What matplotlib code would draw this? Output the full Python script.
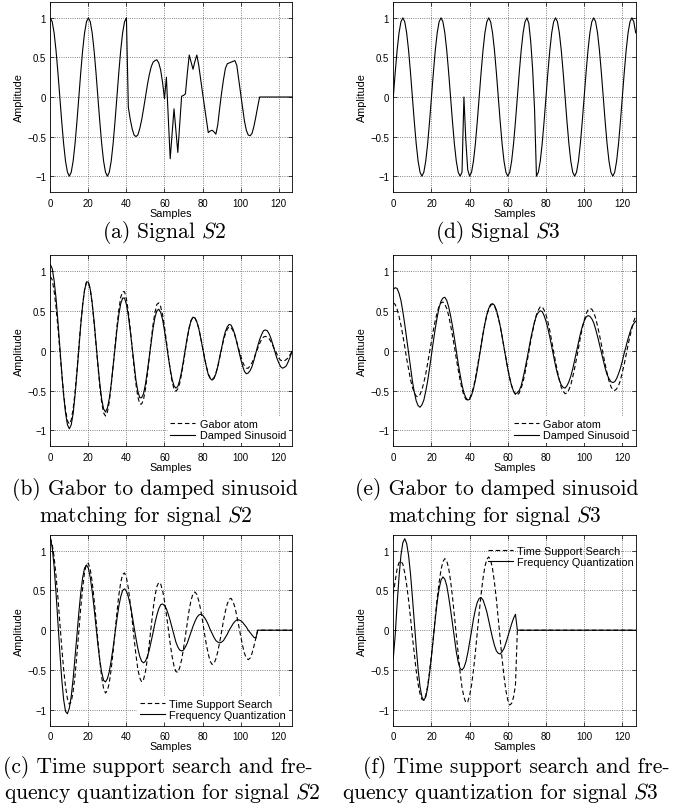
#!/usr/bin/env python3
"""
Six panel figure: signals S2 / S3, Gabor vs damped sinusoid matching,
and time support search vs frequency quantization.
"""

import numpy as np
import matplotlib
matplotlib.use('Agg')
import matplotlib.pyplot as plt

plt.rcParams['font.family'] = ['Liberation Sans', 'DejaVu Sans']
plt.rcParams['mathtext.fontset'] = 'cm'

# Amplitude per sample (samples 0..127)

# (a) signal S2
s2_signal = [1.0, 0.95, 0.81, 0.59, 0.31, 0.0, -0.31, -0.59, -0.81, -0.95,
             -1.0, -0.95, -0.81, -0.59, -0.31, 0.0, 0.31, 0.59, 0.81, 0.95,
             1.0, 0.95, 0.81, 0.59, 0.31, 0.0, -0.31, -0.59, -0.81, -0.95,
             -1.0, -0.95, -0.81, -0.59, -0.31, 0.0, 0.31, 0.59, 0.81, 0.95,
             1.0,
             -0.13, -0.28, -0.40, -0.48, -0.50, -0.48, -0.40, -0.29, -0.15, 0.0,
             0.15, 0.28, 0.38, 0.44, 0.46, 0.47, 0.43, 0.34, 0.18, -0.02,
             0.25, -0.27, -0.78, -0.46, -0.15, -0.42, -0.70, -0.34, 0.01, 0.02,
             0.04, 0.30, 0.53, 0.44, 0.35, 0.45, 0.53, 0.40, 0.22, 0.05,
             -0.12, -0.30, -0.45, -0.43, -0.42, -0.44, -0.47, -0.35, -0.14, 0.05,
             0.22, 0.36, 0.42, 0.43, 0.44, 0.45, 0.46, 0.40, 0.22, 0.05,
             -0.13, -0.30, -0.42, -0.48, -0.49, -0.46, -0.37, -0.25, -0.12, 0.0] + [0.0] * 17

# (d) signal S3
s3_signal = [0.0, 0.31, 0.59, 0.81, 0.95, 1.0, 0.95, 0.81, 0.59, 0.31,
             0.0, -0.31, -0.59, -0.81, -0.95, -1.0, -0.95, -0.81, -0.59, -0.31,
             0.0, 0.31, 0.59, 0.81, 0.95, 1.0, 0.95, 0.81, 0.59, 0.31,
             0.0, -0.31, -0.59, -0.81, -0.95, -1.0, -0.95, 0.0, -0.55, -0.92,
             -1.0,
             -0.95, -0.81, -0.59, -0.31, 0.0, 0.31, 0.59, 0.81, 0.95, 1.0,
             0.95, 0.81, 0.59, 0.31, 0.0, -0.31, -0.59, -0.81, -0.95, -1.0,
             -0.95, -0.81, -0.59, -0.31, 0.0, 0.31, 0.59, 0.81, 0.95, 1.0,
             0.93, 0.70, 0.35, -0.15, -1.0,
             -0.95, -0.81, -0.59, -0.31, 0.0, 0.31, 0.59, 0.81, 0.95, 1.0,
             0.95, 0.81, 0.59, 0.31, 0.0, -0.31, -0.59, -0.81, -0.95, -1.0,
             -0.95, -0.81, -0.59, -0.31, 0.0, 0.31, 0.59, 0.81, 0.95, 1.0,
             0.95, 0.81, 0.59, 0.31, 0.0, -0.31, -0.59, -0.81, -0.95, -1.0,
             -0.95, -0.81, -0.59, -0.31, 0.0, 0.31, 0.59, 0.81, 0.95, 1.0,
             0.95, 0.81]

# (b) S2: Gabor atom (dashed) and damped sinusoid (solid)
s2_gabor = [0.93, 0.89, 0.75, 0.55, 0.29, 0.00, -0.28, -0.54, -0.74, -0.88, -0.92,
            -0.87, -0.73, -0.52, -0.25, 0.05, 0.34, 0.58, 0.76, 0.86,
            0.86, 0.77, 0.59, 0.35, 0.08, -0.20, -0.45, -0.65, -0.78,
            -0.82, -0.77, -0.64, -0.44, -0.20, 0.05, 0.30, 0.51, 0.67, 0.74,
            0.74, 0.65, 0.49, 0.28, 0.04, -0.21, -0.42, -0.58, -0.67,
            -0.67, -0.61, -0.48, -0.30, -0.08, 0.13, 0.33, 0.48, 0.58,
            0.60, 0.55, 0.45, 0.30, 0.12, -0.07, -0.24, -0.39, -0.48, -0.51,
            -0.48, -0.41, -0.29, -0.15, 0.01, 0.16, 0.29, 0.38, 0.42,
            0.41, 0.36, 0.28, 0.17, 0.04, -0.08, -0.20, -0.29, -0.34,
            -0.36, -0.34, -0.28, -0.20, -0.09, 0.02, 0.13, 0.21, 0.27, 0.30,
            0.29, 0.25, 0.19, 0.11, 0.02, -0.06, -0.14, -0.19, -0.22,
            -0.22, -0.19, -0.15, -0.10, -0.03, 0.03, 0.09, 0.14, 0.17, 0.18,
            0.17, 0.15, 0.11, 0.06, 0.01, -0.04, -0.09, -0.12, -0.13,
            -0.13, -0.11, -0.09, -0.05, -0.01]
s2_damped = [1.08, 1.03, 0.88, 0.66, 0.37, 0.05, -0.27, -0.56, -0.78, -0.93, -0.98,
             -0.93, -0.79, -0.56, -0.28, 0.02, 0.32, 0.57, 0.76, 0.86,
             0.86, 0.77, 0.60, 0.37, 0.10, -0.17, -0.41, -0.61, -0.73,
             -0.77, -0.72, -0.60, -0.42, -0.20, 0.03, 0.26, 0.45, 0.59, 0.66,
             0.66, 0.58, 0.44, 0.25, 0.04, -0.18, -0.37, -0.51, -0.59,
             -0.59, -0.54, -0.42, -0.26, -0.08, 0.11, 0.28, 0.42, 0.50,
             0.52, 0.48, 0.39, 0.25, 0.09, -0.08, -0.23, -0.36, -0.44, -0.47,
             -0.45, -0.37, -0.26, -0.12, 0.03, 0.17, 0.29, 0.38, 0.42,
             0.41, 0.36, 0.28, 0.16, 0.04, -0.09, -0.20, -0.30, -0.35, -0.37,
             -0.35, -0.29, -0.20, -0.08, 0.03, 0.15, 0.24, 0.30, 0.33,
             0.32, 0.27, 0.20, 0.10, 0.00, -0.10, -0.19, -0.26, -0.29,
             -0.28, -0.25, -0.20, -0.12, -0.03, 0.06, 0.14, 0.20, 0.25, 0.26,
             0.25, 0.21, 0.15, 0.07, -0.01, -0.09, -0.15, -0.20, -0.22,
             -0.21, -0.19, -0.14, -0.08, -0.01]

# (e) S3: Gabor atom (dashed) and damped sinusoid (solid)
s3_gabor = [0.60, 0.58, 0.52, 0.43, 0.32, 0.19, 0.05, -0.10, -0.23, -0.36, -0.46, -0.53, -0.57,
            -0.58, -0.55, -0.49, -0.40, -0.29, -0.16, -0.02, 0.12, 0.26, 0.38, 0.48, 0.56, 0.60,
            0.61, 0.58, 0.53, 0.44, 0.32, 0.19, 0.05, -0.10, -0.24, -0.37, -0.48, -0.56, -0.61,
            -0.62, -0.60, -0.54, -0.46, -0.35, -0.21, -0.07, 0.07, 0.21, 0.34, 0.45, 0.52, 0.57,
            0.58, 0.56, 0.50, 0.41, 0.31, 0.18, 0.04, -0.09, -0.23, -0.34, -0.44, -0.51, -0.55,
            -0.56, -0.53, -0.47, -0.39, -0.28, -0.15, -0.02, 0.12, 0.24, 0.36, 0.45, 0.51, 0.55,
            0.55, 0.51, 0.45, 0.36, 0.25, 0.12, -0.01, -0.14, -0.26, -0.37, -0.46, -0.51, -0.54,
            -0.53, -0.49, -0.43, -0.33, -0.22, -0.10, 0.03, 0.16, 0.28, 0.38, 0.46, 0.51, 0.53,
            0.52, 0.48, 0.41, 0.31, 0.20, 0.08, -0.05, -0.17, -0.28, -0.38, -0.45, -0.49,
            -0.50, -0.48, -0.44, -0.37, -0.27, -0.17, -0.05, 0.07, 0.18, 0.28, 0.37, 0.43]
s3_damped = [0.77, 0.79, 0.78, 0.72, 0.63, 0.49, 0.33, 0.15, -0.03, -0.22, -0.38, -0.52, -0.63, -0.69,
             -0.71, -0.68, -0.62, -0.51, -0.38, -0.22, -0.05, 0.12, 0.28, 0.42, 0.54, 0.62, 0.66,
             0.67, 0.63, 0.55, 0.44, 0.31, 0.16, 0.00, -0.16, -0.30, -0.43, -0.53, -0.59, -0.62,
             -0.61, -0.56, -0.48, -0.37, -0.24, -0.09, 0.06, 0.21, 0.34, 0.45, 0.53, 0.58,
             0.59, 0.57, 0.51, 0.42, 0.31, 0.18, 0.04, -0.10, -0.23, -0.35, -0.44, -0.51, -0.54,
             -0.53, -0.50, -0.44, -0.34, -0.23, -0.11, 0.02, 0.15, 0.26, 0.36, 0.44, 0.48, 0.50,
             0.49, 0.44, 0.37, 0.28, 0.17, 0.05, -0.07, -0.19, -0.29, -0.37, -0.43, -0.46,
             -0.47, -0.44, -0.39, -0.32, -0.23, -0.12, -0.01, 0.10, 0.21, 0.30, 0.37, 0.42, 0.44,
             0.43, 0.40, 0.35, 0.27, 0.18, 0.08, -0.02, -0.12, -0.22, -0.30, -0.35, -0.39,
             -0.40, -0.39, -0.35, -0.29, -0.22, -0.13, -0.03, 0.06, 0.15, 0.23, 0.30, 0.34, 0.37]

# (c) S2: time support search (dashed) and frequency quantization (solid)
s2_time_support = [1.16, 1.08, 0.92, 0.69, 0.41, 0.10, -0.21, -0.49, -0.71, -0.86, -0.93,
                   -0.90, -0.77, -0.57, -0.30, -0.01, 0.28, 0.53, 0.73, 0.83,
                   0.84, 0.76, 0.61, 0.39, 0.14, -0.13, -0.38, -0.59, -0.73, -0.79,
                   -0.76, -0.66, -0.49, -0.27, -0.02, 0.22, 0.44, 0.60, 0.70,
                   0.72, 0.66, 0.53, 0.34, 0.13, -0.10, -0.31, -0.49, -0.60, -0.65,
                   -0.62, -0.52, -0.36, -0.17, 0.05, 0.26, 0.43, 0.55, 0.60,
                   0.58, 0.50, 0.37, 0.20, 0.02, -0.17, -0.33, -0.45, -0.52,
                   -0.53, -0.47, -0.37, -0.23, -0.07, 0.10, 0.26, 0.38, 0.46,
                   0.48, 0.45, 0.37, 0.26, 0.12, -0.04, -0.18, -0.30, -0.39, -0.43,
                   -0.42, -0.36, -0.27, -0.15, -0.02, 0.12, 0.24, 0.33, 0.39,
                   0.40, 0.36, 0.29, 0.18, 0.06, -0.07, -0.19, -0.29, -0.35, -0.37,
                   -0.35, -0.29, -0.20, -0.10] + [0.0] * 19
s2_freq_quant = [1.16, 1.04, 0.80, 0.47, 0.10, -0.27, -0.61, -0.87, -1.02,
                 -1.05, -0.98, -0.83, -0.61, -0.34, -0.06, 0.22, 0.47, 0.66, 0.78,
                 0.82, 0.78, 0.66, 0.49, 0.28, 0.05, -0.18, -0.38, -0.53, -0.63,
                 -0.65, -0.61, -0.52, -0.38, -0.22, -0.04, 0.14, 0.30, 0.42, 0.50,
                 0.52, 0.49, 0.42, 0.32, 0.19, 0.04, -0.10, -0.23, -0.33, -0.39,
                 -0.41, -0.39, -0.33, -0.25, -0.14, -0.03, 0.09, 0.19, 0.27, 0.32,
                 0.33, 0.31, 0.27, 0.20, 0.12, 0.03, -0.06, -0.15, -0.21, -0.25,
                 -0.26, -0.25, -0.21, -0.16, -0.09, -0.02, 0.05, 0.11, 0.16, 0.19,
                 0.20, 0.19, 0.16, 0.12, 0.07, 0.01, -0.04, -0.09, -0.13, -0.15,
                 -0.16, -0.15, -0.13, -0.09, -0.05, 0.00, 0.04, 0.08, 0.11, 0.13,
                 0.13, 0.12, 0.10, 0.07, 0.04, 0.00, -0.03, -0.06, -0.09, -0.10] + [0.0] * 19

# (f) S3: time support search (dashed) and frequency quantization (solid)
s3_time_support = [0.45, 0.62, 0.77, 0.85,
                   0.87, 0.83, 0.72, 0.57, 0.38, 0.16, -0.08, -0.30, -0.51, -0.68, -0.80, -0.87,
                   -0.88, -0.82, -0.70, -0.52, -0.31, -0.08, 0.17, 0.40, 0.60, 0.76, 0.86, 0.90,
                   0.87, 0.78, 0.62, 0.42, 0.18, -0.07, -0.31, -0.53, -0.72, -0.84, -0.91,
                   -0.90, -0.82, -0.69, -0.50, -0.28, -0.03, 0.22, 0.45, 0.65, 0.80, 0.89,
                   0.92, 0.88, 0.77, 0.60, 0.39, 0.14, -0.11, -0.36, -0.58, -0.76, -0.88, -0.94,
                   -0.92, -0.84, -0.69] + [0.0] * 63
s3_freq_quant = [-0.35, -0.06, 0.33, 0.67, 0.94, 1.10, 1.15,
                 1.09, 0.94, 0.71, 0.42, 0.10, -0.21, -0.49, -0.71, -0.84, -0.88,
                 -0.84, -0.72, -0.54, -0.33, -0.09, 0.14, 0.36, 0.52, 0.63, 0.67,
                 0.64, 0.56, 0.42, 0.26, 0.08, -0.11, -0.27, -0.40, -0.48, -0.50,
                 -0.47, -0.40, -0.29, -0.15, -0.01, 0.14, 0.26, 0.35, 0.40, 0.41,
                 0.38, 0.31, 0.23, 0.12, 0.01, -0.10, -0.19, -0.26, -0.29, -0.30,
                 -0.27, -0.23, -0.16, -0.08, 0.00, 0.08, 0.15, 0.20] + [0.0] * 63

x_ticks = [0, 20, 40, 60, 80, 100, 120]
y_ticks = [-1, -0.5, 0, 0.5, 1]
y_tick_labels = ['\u22121', '\u22120.5', '0', '0.5', '1']

fig = plt.figure(figsize=(6.79, 8.12), dpi=100)

W, H = 679.0, 812.0


def add_axes(px_left, px_top, px_right, px_bottom):
    return fig.add_axes([px_left / W, 1 - px_bottom / H,
                         (px_right - px_left) / W, (px_bottom - px_top) / H])


def style(ax):
    ax.set_xlim(0, 127)
    ax.set_ylim(-1.2, 1.2)
    ax.set_xticks(x_ticks)
    ax.set_yticks(y_ticks)
    ax.set_yticklabels(y_tick_labels)
    ax.tick_params(direction='in', length=3, width=0.5, labelsize=6.9,
                   top=True, right=True, pad=3)
    ax.tick_params(axis='x', pad=4)
    ax.grid(True, linestyle=':', color='0.35', linewidth=0.6)
    for sp in ax.spines.values():
        sp.set_linewidth(0.6)
    ax.set_xlabel('Samples', fontsize=7.8, labelpad=0)
    ax.set_ylabel('Amplitude', fontsize=7.8, labelpad=2)


def legend(ax, loc, anchor=None, frame=True):
    kw = {}
    if anchor is not None:
        kw['bbox_to_anchor'] = anchor
    leg = ax.legend(loc=loc, fontsize=7.8, handlelength=2.3, handletextpad=0.4,
                    labelspacing=0.1, borderpad=0.25, borderaxespad=0.3,
                    frameon=frame, fancybox=False, framealpha=1.0, **kw)
    if frame:
        leg.get_frame().set_edgecolor('white')
        leg.get_frame().set_linewidth(0)


lw = 0.8
dash = (4, 2.5)
cols = [(50.3, 292.0), (393.3, 635.7)]
rows = [(3.0, 193.0), (256.0, 447.3), (535.7, 726.7)]

# (a)
ax = add_axes(cols[0][0], rows[0][0], cols[0][1], rows[0][1])
ax.plot(np.arange(len(s2_signal)), s2_signal, color='k', lw=lw)
style(ax)

# (d)
ax = add_axes(cols[1][0], rows[0][0], cols[1][1], rows[0][1])
ax.plot(np.arange(len(s3_signal)), s3_signal, color='k', lw=lw)
style(ax)

# (b)
ax = add_axes(cols[0][0], rows[1][0], cols[0][1], rows[1][1])
ax.plot(np.arange(len(s2_gabor)), s2_gabor, color='k', lw=lw, dashes=dash, label='Gabor atom')
ax.plot(np.arange(len(s2_damped)), s2_damped, color='k', lw=lw, label='Damped Sinusoid')
style(ax)
legend(ax, 'lower right')

# (e)
ax = add_axes(cols[1][0], rows[1][0], cols[1][1], rows[1][1])
ax.plot(np.arange(len(s3_gabor)), s3_gabor, color='k', lw=lw, dashes=dash, label='Gabor atom')
ax.plot(np.arange(len(s3_damped)), s3_damped, color='k', lw=lw, label='Damped Sinusoid')
style(ax)
legend(ax, 'lower right')

# (c)
ax = add_axes(cols[0][0], rows[2][0], cols[0][1], rows[2][1])
ax.plot(np.arange(len(s2_time_support)), s2_time_support, color='k', lw=lw, dashes=dash,
        label='Time Support Search')
ax.plot(np.arange(len(s2_freq_quant)), s2_freq_quant, color='k', lw=lw,
        label='Frequency Quantization')
style(ax)
legend(ax, 'lower right')

# (f)
ax = add_axes(cols[1][0], rows[2][0], cols[1][1], rows[2][1])
ax.plot(np.arange(len(s3_time_support)), s3_time_support, color='k', lw=lw, dashes=dash,
        label='Time Support Search')
ax.plot(np.arange(len(s3_freq_quant)), s3_freq_quant, color='k', lw=lw,
        label='Frequency Quantization')
style(ax)
legend(ax, 'upper right', anchor=(1.017, 0.972), frame=False)

# captions (pixel centre positions)
cap_size = 15.5
captions = [
    (164, 233, r'(a) Signal $\mathit{S2}$'),
    (498, 233, r'(d) Signal $\mathit{S3}$'),
    (155, 490, '(b) Gabor to damped sinusoid'),
    (146, 516, r'matching for signal $\mathit{S2}$'),
    (497, 490, '(e) Gabor to damped sinusoid'),
    (495, 516, r'matching for signal $\mathit{S3}$'),
    (158, 768, '(c) Time support search and fre-'),
    (162, 793, r'quency quantization for signal $\mathit{S2}$'),
    (516, 768, '(f) Time support search and fre-'),
    (500, 793, r'quency quantization for signal $\mathit{S3}$'),
]
for cx, cy, txt in captions:
    fig.text(cx / W, 1 - cy / H, txt, fontsize=cap_size, family='cmr10',
             ha='center', va='center')

fig.savefig('out.png', dpi=100)
